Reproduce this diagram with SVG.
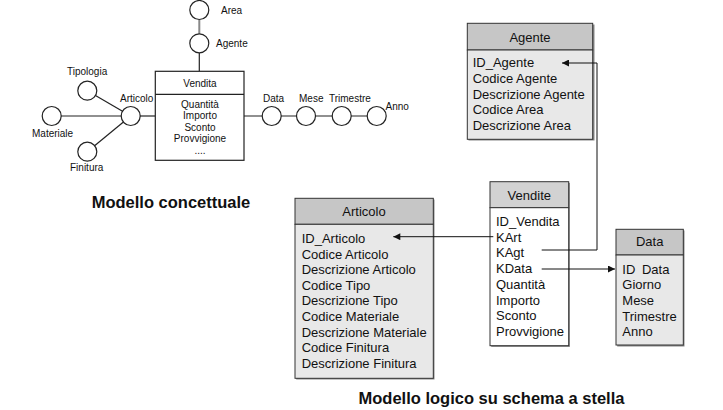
<svg xmlns="http://www.w3.org/2000/svg" width="723" height="410" viewBox="0 0 723 410">
<defs>
<style>
.s{font-family:"Liberation Sans",Arial,sans-serif;font-size:10px;fill:#111}
.t{font-family:"Liberation Sans",Arial,sans-serif;font-size:13px;fill:#111}
.b{font-family:"Liberation Sans",Arial,sans-serif;font-size:16.5px;font-weight:bold;fill:#111;text-anchor:middle}
.m{text-anchor:middle}
.c{fill:#fff;stroke:#222;stroke-width:1.2}
.l{stroke:#222;stroke-width:1.2;fill:none}
.hd{fill:#c6c6c6;stroke:#333;stroke-width:1}
.bd{fill:#e8e8e8;stroke:#333;stroke-width:1}
.bw{fill:#fff;stroke:#333;stroke-width:1}
.sh{fill:#888}
.cn{stroke:#111;stroke-width:1;fill:none}
</style>
<marker id="ar" viewBox="0 0 10 10" refX="10" refY="5" markerWidth="8" markerHeight="7" markerUnits="userSpaceOnUse" orient="auto">
<path d="M0,0 L10,5 L0,10 z" fill="#111"/>
</marker>
</defs>
<rect width="723" height="410" fill="#fff"/>

<g id="concept-lines">
<line x1="199.3" y1="19.5" x2="199.3" y2="34" stroke="#888" stroke-width="2"/>
<line class="l" x1="199.3" y1="53" x2="199.3" y2="71.3"/>
<line class="l" x1="87.3" y1="90.7" x2="130.7" y2="116"/>
<line class="l" x1="51.7" y1="116" x2="130.7" y2="116"/>
<line class="l" x1="87.3" y1="151.7" x2="130.7" y2="116"/>
<line class="l" x1="140" y1="116" x2="155.3" y2="116"/>
<line class="l" x1="244" y1="116" x2="376.7" y2="116"/>
</g>

<g id="c-area"><circle class="c" cx="199.3" cy="10" r="9.5"/><text class="s" x="221" y="13.5">Area</text></g>
<g id="c-agente"><circle class="c" cx="199.3" cy="43.3" r="9.5"/><text class="s" x="216" y="46.5">Agente</text></g>
<g id="c-tipologia"><circle class="c" cx="87.3" cy="90.7" r="9.5"/><text class="s" x="67" y="74.5">Tipologia</text></g>
<g id="c-materiale"><circle class="c" cx="51.7" cy="116" r="9.5"/><text class="s" x="32" y="136.5">Materiale</text></g>
<g id="c-finitura"><circle class="c" cx="87.3" cy="151.7" r="9.5"/><text class="s" x="70" y="170.5">Finitura</text></g>
<g id="c-articolo"><circle class="c" cx="130.7" cy="116" r="9.5"/><text class="s" x="120" y="101.5">Articolo</text></g>
<g id="c-data"><circle class="c" cx="271.7" cy="116" r="9.5"/><text class="s" x="263" y="101.5">Data</text></g>
<g id="c-mese"><circle class="c" cx="306" cy="116" r="9.5"/><text class="s" x="299" y="101.5">Mese</text></g>
<g id="c-trimestre"><circle class="c" cx="341.7" cy="116" r="9.5"/><text class="s" x="329" y="101.5">Trimestre</text></g>
<g id="c-anno"><circle class="c" cx="376.7" cy="116" r="9.5"/><text class="s" x="385.5" y="110">Anno</text></g>

<g id="c-vendita">
<rect x="155.3" y="71.3" width="88.7" height="89" fill="#fff" stroke="#222" stroke-width="1.2"/>
<line class="l" x1="155.3" y1="94.3" x2="244" y2="94.3"/>
<text class="s m" x="200" y="86.5">Vendita</text>
<text class="s m" x="200" y="107.5">Quantità</text>
<text class="s m" x="200" y="119">Importo</text>
<text class="s m" x="200" y="130.5">Sconto</text>
<text class="s m" x="200" y="142">Provvigione</text>
<text class="s m" x="200" y="153.5" fill="#777">....</text>
</g>

<text class="b" x="171" y="207.5">Modello concettuale</text>

<g id="t-agente">
<rect class="sh" x="468.5" y="24.5" width="126" height="116"/>
<rect class="hd" x="467.3" y="23.3" width="125.4" height="26.7"/>
<rect class="bd" x="467.3" y="50" width="125.4" height="89.3"/>
<text class="t m" x="530" y="41.5">Agente</text>
<text class="t" x="472.7" y="67">ID_Agente</text>
<text class="t" x="472.7" y="82.8">Codice Agente</text>
<text class="t" x="472.7" y="98.6">Descrizione Agente</text>
<text class="t" x="472.7" y="114.4">Codice Area</text>
<text class="t" x="472.7" y="130.2">Descrizione Area</text>
</g>

<g id="t-vendite">
<rect class="sh" x="491.2" y="182.9" width="78.7" height="164"/>
<rect class="hd" x="490" y="181.7" width="78.7" height="26" style="fill:#d2d2d2"/>
<rect class="bw" x="490" y="207.7" width="78.7" height="138"/>
<text class="t m" x="529.3" y="199.5">Vendite</text>
<text class="t" x="496" y="226">ID_Vendita</text>
<text class="t" x="496" y="241.7">KArt</text>
<text class="t" x="496" y="257.4">KAgt</text>
<text class="t" x="496" y="273.1">KData</text>
<text class="t" x="496" y="288.8">Quantità</text>
<text class="t" x="496" y="304.5">Importo</text>
<text class="t" x="496" y="320.2">Sconto</text>
<text class="t" x="496" y="335.9">Provvigione</text>
</g>

<g id="t-articolo">
<rect class="sh" x="296.2" y="199.5" width="138.3" height="180"/>
<rect class="hd" x="295" y="198.3" width="138.3" height="26"/>
<rect class="bd" x="295" y="224.3" width="138.3" height="154"/>
<text class="t m" x="364" y="216">Articolo</text>
<text class="t" x="301.7" y="243">ID_Articolo</text>
<text class="t" x="301.7" y="258.6">Codice Articolo</text>
<text class="t" x="301.7" y="274.2">Descrizione Articolo</text>
<text class="t" x="301.7" y="289.8">Codice Tipo</text>
<text class="t" x="301.7" y="305.4">Descrizione Tipo</text>
<text class="t" x="301.7" y="321">Codice Materiale</text>
<text class="t" x="301.7" y="336.6">Descrizione Materiale</text>
<text class="t" x="301.7" y="352.2">Codice Finitura</text>
<text class="t" x="301.7" y="367.8">Descrizione Finitura</text>
</g>

<g id="t-data">
<rect class="sh" x="617.2" y="230.5" width="67.3" height="116"/>
<rect class="hd" x="616" y="229.3" width="67.3" height="25.7"/>
<rect class="bd" x="616" y="255" width="67.3" height="90"/>
<text class="t m" x="649.7" y="246">Data</text>
<text class="t" x="622.3" y="273.5">ID <tspan dx="3">Data</tspan></text>
<text class="t" x="622.3" y="289.2">Giorno</text>
<text class="t" x="622.3" y="304.9">Mese</text>
<text class="t" x="622.3" y="320.6">Trimestre</text>
<text class="t" x="622.3" y="336.3">Anno</text>
</g>

<g id="connectors">
<path class="cn" d="M541.7,250 H597 V63 H562" marker-end="url(#ar)"/>
<path class="cn" d="M493.3,236.7 H393.3" marker-end="url(#ar)"/>
<path class="cn" d="M541.7,269 H615" marker-end="url(#ar)"/>
</g>

<text class="b" x="491.5" y="404">Modello logico su schema a stella</text>
</svg>
